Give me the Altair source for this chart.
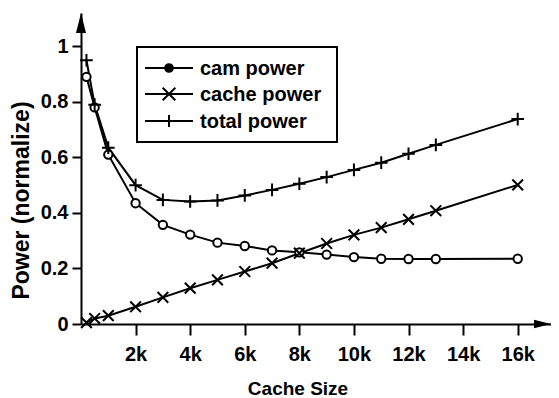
import altair as alt
import pandas as pd

# ---- data ----
sizes_k = [0.2, 0.5, 1, 2, 3, 4, 5, 6, 7, 8, 9, 10, 11, 12, 13, 16]
cam_power = [0.89, 0.78, 0.61, 0.435, 0.357, 0.322, 0.293, 0.281, 0.265, 0.258,
             0.25, 0.241, 0.235, 0.234, 0.234, 0.235]
cache_power = [0.005, 0.02, 0.03, 0.062, 0.096, 0.129, 0.159, 0.189, 0.219, 0.255,
               0.29, 0.321, 0.347, 0.377, 0.408, 0.501]
total_power = [0.95, 0.79, 0.635, 0.50, 0.447, 0.441, 0.445, 0.463, 0.483, 0.505,
               0.529, 0.555, 0.581, 0.613, 0.645, 0.738]
series_names = ["cam power", "cache power", "total power"]
x_ticks = [2, 4, 6, 8, 10, 12, 14, 16]
y_ticks = [0, 0.1, 0.2, 0.3, 0.4, 0.5, 0.6, 0.7, 0.8, 0.9, 1.0]

rows = []
for name, vals in zip(series_names, [cam_power, cache_power, total_power]):
    for s, v in zip(sizes_k, vals):
        rows.append({"size": s, "power": v, "series": name})
df = pd.DataFrame(rows)

# ---- styling ----
FONT = "Liberation Sans"
W, H = 470, 311
XMAX, YMAX = 17.22, 1.12
XSHAPE = "M-1,-1L1,1M-1,1L1,-1"
PLUS = "M-1,0L1,0M0,-1L0,1"
shapes = ["circle", XSHAPE, PLUS]
sizes = [70, 160, 150]

x_enc = alt.X(
    "size:Q",
    scale=alt.Scale(domain=[0, XMAX], nice=False, zero=True),
    axis=alt.Axis(
        values=x_ticks, labelExpr="datum.value + 'k'", title="Cache Size",
        grid=False, domainColor="black", domainWidth=2, tickColor="black",
        tickWidth=2, tickSize=11, labelPadding=9, labelFont=FONT,
        labelFontSize=20, labelFontWeight="bold", labelColor="black",
        labelFlush=False, labelOverlap=False,
        titleFont=FONT, titleFontSize=19, titleFontWeight="bold",
        titleColor="black", titleX=216.5, titleY=70,
        titleBaseline="alphabetic", titleAlign="center",
    ),
)
y_enc = alt.Y(
    "power:Q",
    scale=alt.Scale(domain=[0, YMAX], nice=False, zero=True),
    axis=alt.Axis(
        values=y_ticks,
        labelExpr="round(datum.value*10) % 2 == 0 ? format(datum.value, '~g') : ''",
        title="Power (normalize)", grid=False, domainColor="black",
        domainWidth=2, tickColor="black", tickWidth=2, tickSize=9,
        labelPadding=4, labelFont=FONT, labelFontSize=20,
        labelFontWeight="bold", labelColor="black", labelFlush=False,
        labelOverlap=False, titleFont=FONT, titleFontSize=23,
        titleFontWeight="bold", titleColor="black", titleAngle=270,
        titleX=-52.5, titleY=187, titleBaseline="alphabetic",
        titleAlign="center",
    ),
)

lines = alt.Chart(df).mark_line(color="black", strokeWidth=2).encode(
    x=x_enc, y=y_enc, detail="series:N"
)
points = alt.Chart(df).mark_point(
    fill="white", fillOpacity=1, stroke="black", strokeWidth=2, opacity=1
).encode(
    x="size:Q", y="power:Q",
    shape=alt.Shape("series:N", scale=alt.Scale(domain=series_names, range=shapes), legend=None),
    size=alt.Size("series:N", scale=alt.Scale(domain=series_names, range=sizes), legend=None),
)

one = pd.DataFrame({"k": [0]})
box = alt.Chart(one).mark_rect(fill="white", stroke="black", strokeWidth=2).encode(
    x=alt.value(56), x2=alt.value(256), y=alt.value(34), y2=alt.value(129)
)

legend_layers = []
row_y = [55, 81, 108]
for name, shp, sz, ry in zip(series_names, shapes, sizes, row_y):
    d = pd.DataFrame({"series": [name]})
    legend_layers.append(
        alt.Chart(d).mark_rule(color="black", strokeWidth=2).encode(
            x=alt.value(64), x2=alt.value(112), y=alt.value(ry))
    )
    fill = "black" if shp == "circle" else "white"
    legend_layers.append(
        alt.Chart(d).mark_point(shape=shp, size=sz if shp != "circle" else 60,
                                fill=fill, fillOpacity=1, stroke="black",
                                strokeWidth=2, opacity=1).encode(
            x=alt.value(88), y=alt.value(ry))
    )
    legend_layers.append(
        alt.Chart(d).mark_text(align="left", baseline="middle", font=FONT,
                               fontSize=20, fontWeight="bold", color="black").encode(
            text="series:N", x=alt.value(119), y=alt.value(ry + 1))
    )

arrow_up = alt.Chart(one).mark_point(
    shape="M0,-1L0.5,1L-0.5,1Z", size=400, filled=True, color="black", opacity=1
).encode(x=alt.value(0), y=alt.value(10))
arrow_right = alt.Chart(one).mark_point(
    shape="M1,0L-1,0.5L-1,-0.5Z", size=289, filled=True, color="black", opacity=1
).encode(x=alt.value(W - 8.5), y=alt.value(H))

chart = alt.layer(lines, points, box, *legend_layers, arrow_up, arrow_right).properties(
    width=W, height=H,
    autosize=alt.AutoSizeParams(type="none"),
    padding={"left": 73, "top": 5, "right": 0, "bottom": 74},
    background="white",
).configure_view(stroke=None)

chart.save("out.html", embed_options={"renderer": "svg", "actions": False})
